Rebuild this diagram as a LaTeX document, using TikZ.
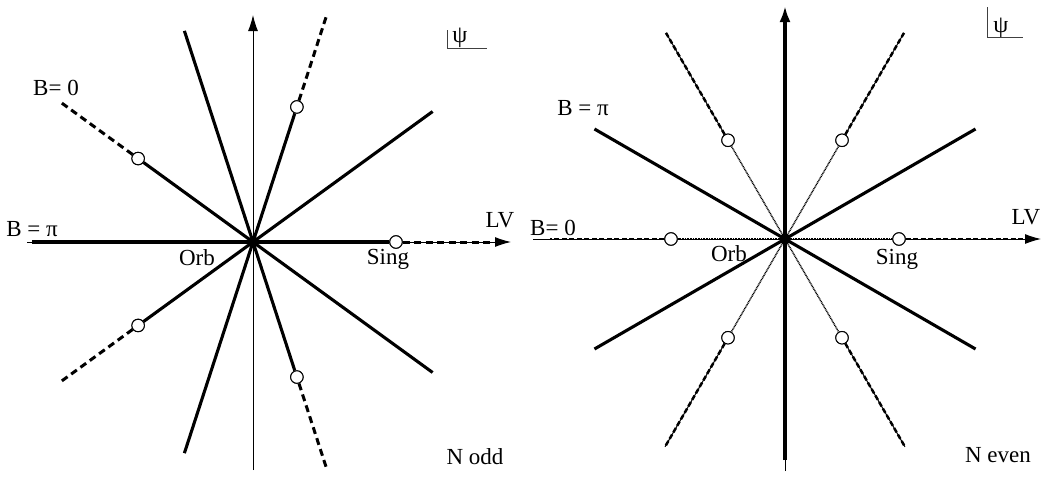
\documentclass[tikz,border=0pt]{standalone}
\usepackage{fontspec}
\setmainfont{Liberation Serif}
\usetikzlibrary{arrows.meta}
\begin{document}
\begin{tikzpicture}[x=1pt,y=-1pt,
  axisline/.style={line width=1pt},
  ray/.style={line width=3.1pt},
  dashray/.style={line width=3pt, dash pattern=on 7pt off 4.5pt},
  dashrayR/.style={line width=2.5pt, dash pattern=on 5pt off 2.5pt},
  dotray/.style={line width=1.5pt, dash pattern=on 0.9pt off 0.7pt},
  ring/.style={circle, draw, fill=white, inner sep=0pt, minimum size=12.5pt, line width=1pt},
  hub/.style={circle, fill=black, inner sep=0pt, minimum size=11pt},
  lbl/.style={inner sep=0pt, font=\fontsize{23}{27}\selectfont},
  psilbl/.style={inner sep=0pt, font=\fontsize{24}{28}\selectfont},
  tip/.style={-{Latex[length=16pt,width=10pt]}},
  tipthick/.style={-{Latex[length=16pt,width=11pt]}}
]
\useasboundingbox (0,0) rectangle (1042,477);

% ================= LEFT PANEL (N odd) =================
\coordinate (OL) at (253,242);
\coordinate (LaxB) at (253,470);
\coordinate (LaxT) at (253,15);
\coordinate (LaxL) at (27,242);
\coordinate (LaxR) at (511,242);
\draw[axisline,tip] (LaxB) -- (LaxT);
\draw[axisline,tip] (LaxL) -- (LaxR);

\begin{scope}[shift={(OL)}]
  \coordinate (Ls36) at (-36:222);
  \coordinate (Ls108) at (-108:222);
  \coordinate (Ls180) at (-180:221);
  \coordinate (Ls252) at (-252:222);
  \coordinate (Ls324) at (-324:222);
  \coordinate (Le72) at (-72:240);
  \coordinate (Le144) at (-144:240);
  \coordinate (Le216) at (-216:240);
  \coordinate (Le288) at (-288:240);
  \coordinate (Le0) at (0:245);
  \node[ring] (Lc0) at (0:143) {};
  \node[ring] (Lc72) at (-72:142) {};
  \node[ring] (Lc144) at (-144:142) {};
  \node[ring] (Lc216) at (-216:142) {};
  \node[ring] (Lc288) at (-288:142) {};
\end{scope}

\foreach \a in {36,108,180,252,324} \draw[ray] (OL) -- (Ls\a);
\foreach \a in {0,72,144,216,288} {
  \draw[ray] (OL) -- (Lc\a);
  \draw[dashray] (Lc\a) -- (Le\a);
}
\foreach \a in {0,72,144,216,288} \node[ring] at (Lc\a) {};
\node[hub] (hubL) at (OL) {};

\node[lbl] (LB0) at (56,88) {B= 0};
\node[lbl] (LBpi) at (32,229) {B = π};
\node[lbl] (Lorb) at (197,258) {Orb};
\node[lbl] (Lsing) at (388,259) {Sing};
\node[lbl] (LLV) at (500,220) {LV};
\node[lbl] (Lnodd) at (475,457) {N odd};
\node[psilbl] (Lpsi) at (460,38) {ψ};
\coordinate (LpsiT) at (447,30);
\coordinate (LpsiC) at (447,48);
\coordinate (LpsiR) at (487,48);
\draw[line width=0.9pt, black!75] (LpsiT) -- (LpsiC) -- (LpsiR);

% ================= RIGHT PANEL (N even) =================
\coordinate (OR) at (785,239);
\coordinate (RaxB) at (785,471);
\coordinate (RthB) at (785,460);
\coordinate (RaxT) at (785,6);
\coordinate (RaxL) at (533,239);
\coordinate (RaxR) at (1041,239);
\coordinate (RdL) at (550,239);
\coordinate (RdR) at (1028,239);
\draw[axisline] (RaxB) -- (RthB);
\draw[axisline,tip] (RaxL) -- (RaxR);
\draw[ray,tipthick] (RthB) -- (RaxT);

\begin{scope}[shift={(OR)}]
  \coordinate (Rs30) at (-30:220);
  \coordinate (Rs150) at (-150:220);
  \coordinate (Rs210) at (-210:220);
  \coordinate (Rs330) at (-330:220);
  \coordinate (Re60) at (-60:238);
  \coordinate (Re120) at (-120:238);
  \coordinate (Re240) at (-240:240);
  \coordinate (Re300) at (-300:240);
  \node[ring] (Rc0) at (0:114) {};
  \node[ring] (Rc180) at (180:114) {};
  \node[ring] (Rc60) at (-60:114) {};
  \node[ring] (Rc120) at (-120:114) {};
  \node[ring] (Rc240) at (-240:114) {};
  \node[ring] (Rc300) at (-300:114) {};
\end{scope}

\foreach \a in {30,150,210,330} \draw[ray] (OR) -- (Rs\a);
\foreach \a in {0,180,60,120,240,300} \draw[dotray] (OR) -- (Rc\a);
\foreach \a in {60,120,240,300} {
  \draw[axisline] (Rc\a) -- (Re\a);
  \draw[dashrayR] (Rc\a) -- (Re\a);
}
\draw[dashrayR] (Rc0) -- (RdR);
\draw[dashrayR] (Rc180) -- (RdL);
\foreach \a in {0,180,60,120,240,300} \node[ring] at (Rc\a) {};
\node[hub] (hubR) at (OR) {};

\node[lbl] (RBpi) at (583,108) {B = π};
\node[lbl] (RB0) at (553,228) {B= 0};
\node[lbl] (Rorb) at (729,254) {Orb};
\node[lbl] (Rsing) at (897,259) {Sing};
\node[lbl] (RLV) at (1026,217) {LV};
\node[lbl] (Rneven) at (998,455) {N even};
\node[psilbl] (Rpsi) at (1001,28) {ψ};
\coordinate (RpsiT) at (987,7);
\coordinate (RpsiC) at (987,37);
\coordinate (RpsiR) at (1023,37);
\draw[line width=0.9pt, black!75] (RpsiT) -- (RpsiC) -- (RpsiR);
\end{tikzpicture}
\end{document}
